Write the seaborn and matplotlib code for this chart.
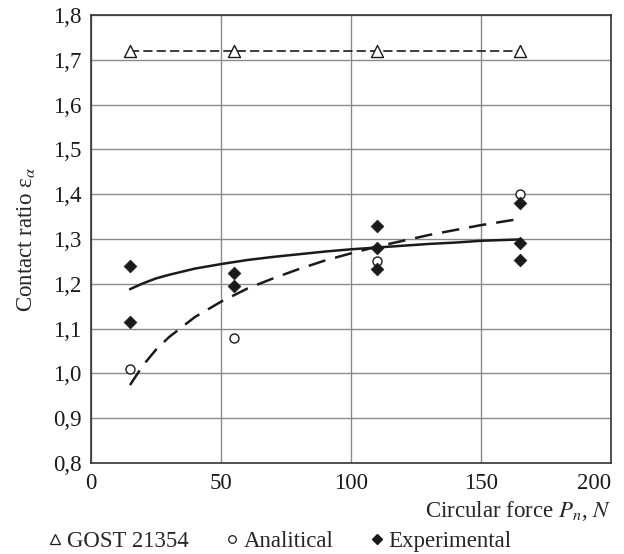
import numpy as np
import pandas as pd
import matplotlib
matplotlib.use("Agg")
import matplotlib.pyplot as plt
import seaborn as sns
from matplotlib.lines import Line2D
from matplotlib.ticker import FuncFormatter, MultipleLocator

# values
force = [15, 55, 110, 165]
gost = [1.72, 1.72, 1.72, 1.72]
analytical = [1.01, 1.08, 1.25, 1.40]

exp_force = [15, 15, 55, 55, 110, 110, 110, 165, 165, 165]
exp_ratio = [1.24, 1.115, 1.225, 1.195, 1.33, 1.28, 1.233, 1.38, 1.292, 1.253]

# trend curves, points
curve_x = [15, 20, 25, 30, 40, 50, 60, 70, 80, 90, 100, 110, 120, 130, 140, 150, 165]
exp_trend = [1.188, 1.201, 1.212, 1.220, 1.234, 1.244, 1.253, 1.260, 1.266, 1.272,
             1.277, 1.281, 1.285, 1.289, 1.292, 1.296, 1.299]
an_trend = [0.974, 1.018, 1.053, 1.081, 1.126, 1.160, 1.189, 1.212, 1.233, 1.252,
            1.268, 1.283, 1.296, 1.309, 1.320, 1.331, 1.345]

x_ticks = [0, 50, 100, 150, 200]

FS = 16.5

sns.set_style("white")
plt.rcParams["font.family"] = ["Liberation Serif", "DejaVu Serif"]
plt.rcParams["mathtext.fontset"] = "stix"
plt.rcParams["font.size"] = FS

fig = plt.figure(figsize=(6.24, 5.54), dpi=100)
ax = fig.add_axes([91 / 624, 1 - 463 / 554, 520 / 624, 448 / 554])

# grid first so the marks sit on top
ax.set_axisbelow(True)
ax.grid(True, color="#8a8a8a", linewidth=1.0)

sns.lineplot(x=force, y=gost, ax=ax, color="#1a1a1a", linewidth=1.2,
             linestyle=(0, (5.5, 2.5)), zorder=2)
sns.lineplot(x=curve_x, y=an_trend, ax=ax, color="#1a1a1a", linewidth=1.8,
             linestyle=(0, (7, 4)), zorder=2)
sns.lineplot(x=curve_x, y=exp_trend, ax=ax, color="#1a1a1a", linewidth=1.8, zorder=2)

sns.scatterplot(x=force, y=gost, ax=ax, marker="^", s=75, facecolor="white",
                edgecolor="#1a1a1a", linewidth=1.0, zorder=3)
sns.scatterplot(x=force, y=analytical, ax=ax, marker="o", s=42, facecolor="white",
                edgecolor="#1a1a1a", linewidth=1.0, zorder=3)
sns.scatterplot(x=exp_force, y=exp_ratio, ax=ax, marker="D", s=42, color="#1a1a1a",
                edgecolor="#1a1a1a", linewidth=0.5, zorder=4)

ax.set_xlim(0, 200)
ax.set_ylim(0.8, 1.8)
ax.set_xticks(x_ticks)
ax.set_xticklabels([str(t) for t in x_ticks])
ax.yaxis.set_major_locator(MultipleLocator(0.1))
ax.yaxis.set_major_formatter(FuncFormatter(lambda v, p: f"{v:.1f}".replace(".", ",")))
ax.tick_params(length=0, labelsize=FS, colors="#1a1a1a")
ax.tick_params(axis="x", pad=7)
ax.tick_params(axis="y", pad=7)

# last x label kept inside the figure
ax.get_xticklabels()[-1].set_horizontalalignment("right")

for sp in ax.spines.values():
    sp.set_color("#333333")
    sp.set_linewidth(1.2)

ax.set_ylabel("Contact ratio ε$_\\alpha$", fontsize=FS, labelpad=11)
ax.set_xlabel(r"Circular force $P_n$, $N$", fontsize=FS, loc="right", labelpad=4)

handles = [
    Line2D([], [], marker="^", linestyle="", markersize=6.5, markerfacecolor="white",
           markeredgecolor="#1a1a1a", markeredgewidth=0.9),
    Line2D([], [], marker="o", linestyle="", markersize=5.5, markerfacecolor="white",
           markeredgecolor="#1a1a1a", markeredgewidth=0.9),
    Line2D([], [], marker="D", linestyle="", markersize=5, color="#1a1a1a"),
]
fig.legend(handles, ["GOST 21354", "Analitical", "Experimental"], ncol=3,
           loc="center", bbox_to_anchor=(280 / 624, 1 - 541 / 554), frameon=False,
           fontsize=FS, handlelength=0.6, handletextpad=0.2, columnspacing=1.6,
           borderpad=0)

fig.savefig("out.png", dpi=100)
